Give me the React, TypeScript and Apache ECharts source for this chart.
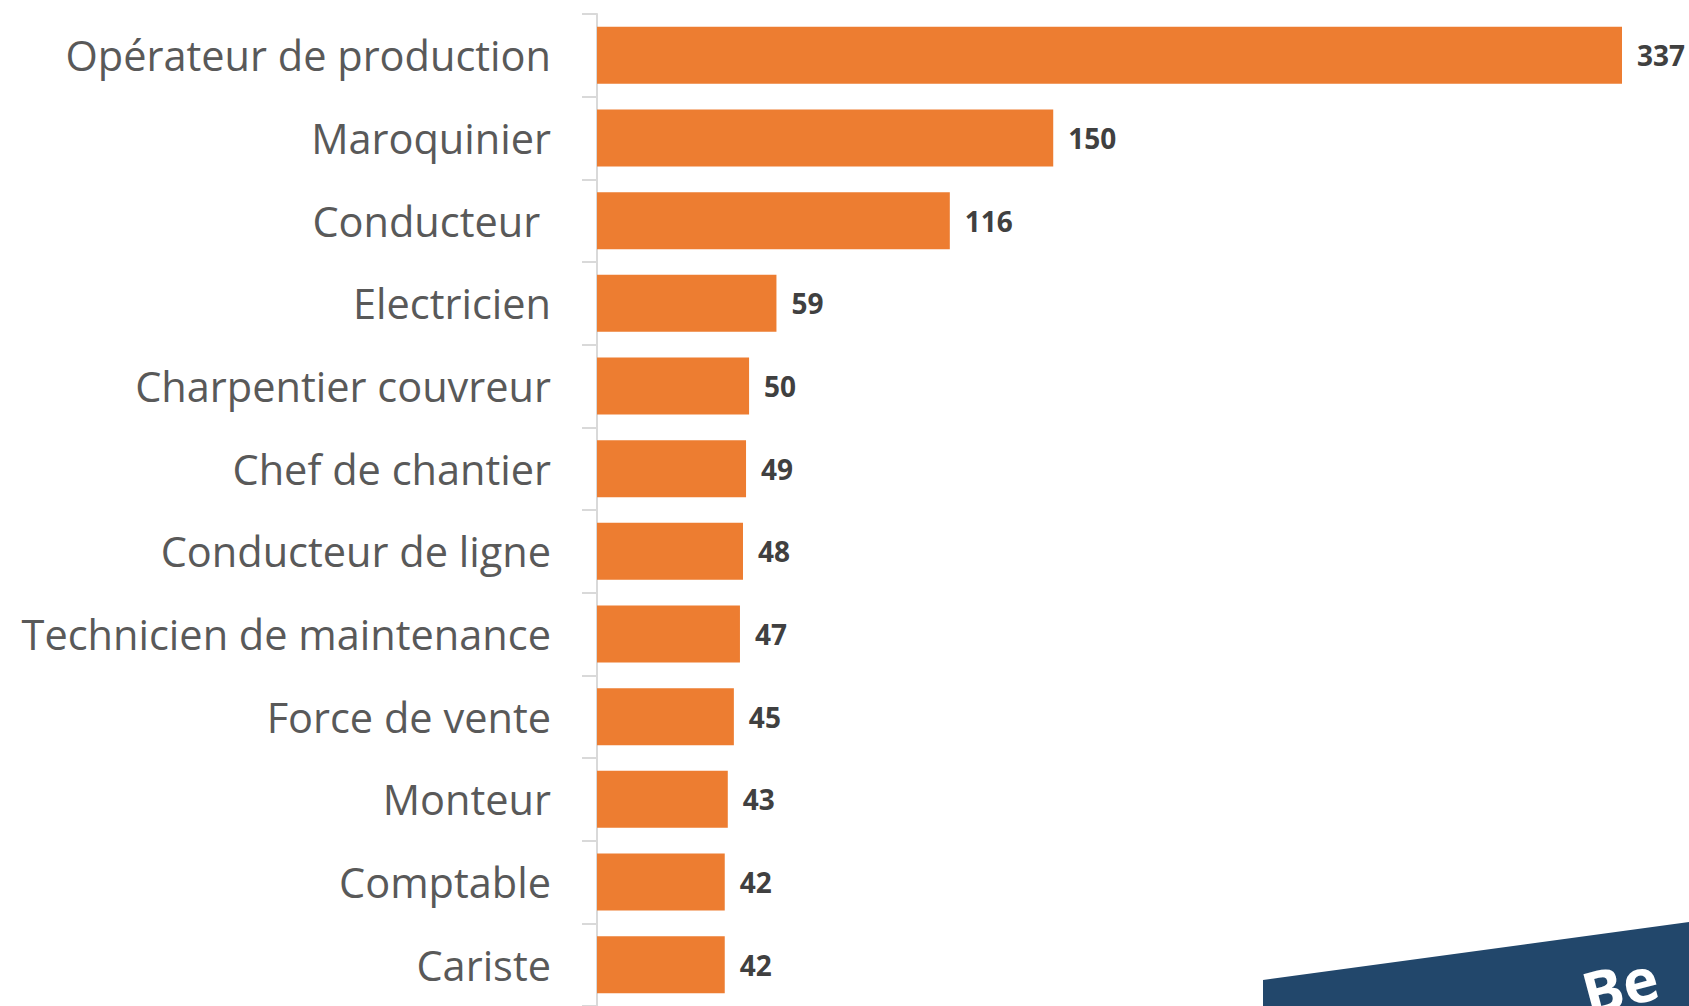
import React, { useEffect, useRef } from "react";
import * as echarts from "echarts";

const categories = [
  "Opérateur de production",
  "Maroquinier",
  "Conducteur ",
  "Electricien",
  "Charpentier couvreur",
  "Chef de chantier",
  "Conducteur de ligne",
  "Technicien de maintenance",
  "Force de vente",
  "Monteur",
  "Comptable",
  "Cariste",
];
const values = [337, 150, 116, 59, 50, 49, 48, 47, 45, 43, 42, 42];

export default function App() {
  const ref = useRef<HTMLDivElement>(null);
  useEffect(() => {
    if (!ref.current) return;
    const chart = echarts.init(ref.current, null, { renderer: "svg" });
    chart.setOption({
      animation: false,
      grid: { left: 597, top: 14, width: 1025, height: 998.4, containLabel: false },
      xAxis: {
        type: "value",
        min: 0,
        max: 337,
        show: false,
        splitLine: { show: false },
      },
      yAxis: {
        type: "category",
        inverse: true,
        data: categories,
        axisLine: { show: true, lineStyle: { color: "#d9d9d9", width: 2 } },
        axisTick: { show: true, length: 15, lineStyle: { color: "#d9d9d9", width: 2 } },
        axisLabel: {
          margin: 46,
          fontSize: 41.5,
          color: "#595959",
          fontFamily: "Open Sans",
        },
      },
      series: [
        {
          type: "bar",
          data: values,
          barCategoryGap: "31%",
          itemStyle: { color: "#ED7D31" },
          label: {
            show: true,
            position: "right",
            distance: 15,
            fontSize: 28,
            fontWeight: "bold",
            color: "#404040",
            fontFamily: "Open Sans",
          },
        },
      ],
      graphic: [
        {
          type: "polygon",
          shape: { points: [[1263, 980], [1689, 922], [1689, 1006], [1263, 1006]] },
          style: { fill: "#22476B" },
        },
        {
          type: "text",
          x: 1620,
          y: 985,
          rotation: 0.26,
          style: {
            text: "Be",
            fill: "#ffffff",
            font: "bold 60px 'Open Sans'",
            align: "center",
            verticalAlign: "middle",
          },
        },
      ],
    });
    return () => chart.dispose();
  }, []);
  return (
    <div
      ref={ref}
      style={{ position: "absolute", left: 0, top: 0, width: 1689, height: 1006, background: "#fff" }}
    />
  );
}
